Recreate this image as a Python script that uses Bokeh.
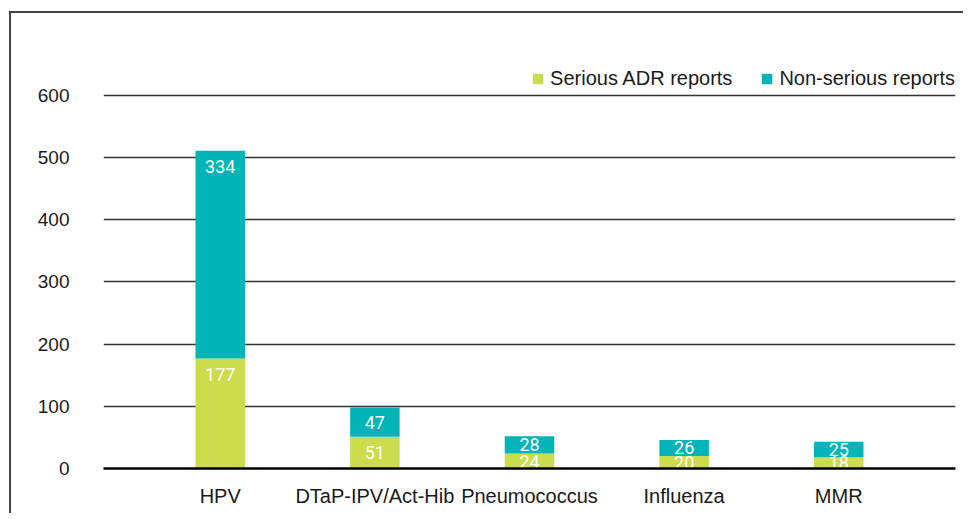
from bokeh.plotting import figure
from bokeh.models import (ColumnDataSource, FactorRange, Range1d, FixedTicker,
                          Legend, LegendItem)
from bokeh.core.properties import value
from bokeh.embed import file_html
from bokeh.resources import INLINE

# ---- data ----
vaccines = ["HPV", "DTaP-IPV/Act-Hib", "Pneumococcus", "Influenza", "MMR"]
serious = [177, 51, 24, 20, 18]
non_serious = [334, 47, 28, 26, 25]
series_names = ["Serious ADR reports", "Non-serious reports"]
y_ticks = [0, 100, 200, 300, 400, 500, 600]

GREEN = "#CBDC4C"
TEAL = "#00B4B8"

src = ColumnDataSource(dict(x=vaccines, serious=serious, non_serious=non_serious))

# thin outer frame (top and left edges visible) drawn by CSS on the host element
frame_css = {"box-shadow": "inset 9px 11px 0 0 white, inset 11px 13px 0 0 #444444",
             "background": "white"}

p = figure(x_range=FactorRange(factors=vaccines, range_padding=0.102),
           y_range=Range1d(0, 645),
           width=963, height=513, output_backend="svg", toolbar_location=None,
           min_border_left=103, min_border_right=8, min_border_top=67,
           min_border_bottom=45, styles=frame_css)
p.outline_line_color = None
p.background_fill_color = "white"
p.border_fill_color = None

r = p.vbar_stack(["serious", "non_serious"], x="x", width=0.32, source=src,
                 color=[GREEN, TEAL], line_color=None)

# value labels (near top of each segment, or centred when segment is small)
off = 25.7  # data units ~ 16 px
lab_x, lab_y, lab_t = [], [], []
for v, s, n in zip(vaccines, serious, non_serious):
    lab_x += [v, v]
    lab_y += [s - min(off, s / 2), s + n - min(off, n / 2)]
    lab_t += [str(s), str(n)]
lsrc = ColumnDataSource(dict(x=lab_x, y=lab_y, t=lab_t))
p.text(x="x", y="y", text="t", source=lsrc, text_color="white",
       text_align="center", text_baseline="middle",
       text_font=value("Roboto"), text_font_size="18px")

# axes
p.xaxis.axis_line_color = "black"
p.xaxis.axis_line_width = 2.5
p.xaxis.major_tick_line_color = None
p.xaxis.minor_tick_line_color = None
p.xaxis.major_label_standoff = 10
p.xaxis.major_label_text_font = "Liberation Sans"
p.xaxis.major_label_text_font_size = "20px"
p.xaxis.major_label_text_color = "#1a1a1a"

p.yaxis.ticker = FixedTicker(ticks=y_ticks)
p.yaxis.axis_line_color = None
p.yaxis.major_tick_line_color = None
p.yaxis.minor_tick_line_color = None
p.yaxis.major_label_standoff = 28
p.yaxis.major_label_text_font = "Liberation Sans"
p.yaxis.major_label_text_font_size = "19px"
p.yaxis.major_label_text_color = "#1a1a1a"

p.xgrid.grid_line_color = None
p.ygrid.grid_line_color = "#333333"
p.ygrid.grid_line_width = 1.5

# legend
legend = Legend(items=[LegendItem(label=series_names[0], renderers=[r[0]]),
                       LegendItem(label=series_names[1], renderers=[r[1]])],
                orientation="horizontal", location="top_right",
                margin=0, padding=0, spacing=28, label_standoff=6,
                glyph_width=13, glyph_height=13, label_height=20,
                border_line_color=None, background_fill_alpha=0,
                label_text_font="Liberation Sans", label_text_font_size="20px",
                label_text_color="#1a1a1a")
p.add_layout(legend, "center")

open("out.html", "w").write(file_html(p, INLINE))
